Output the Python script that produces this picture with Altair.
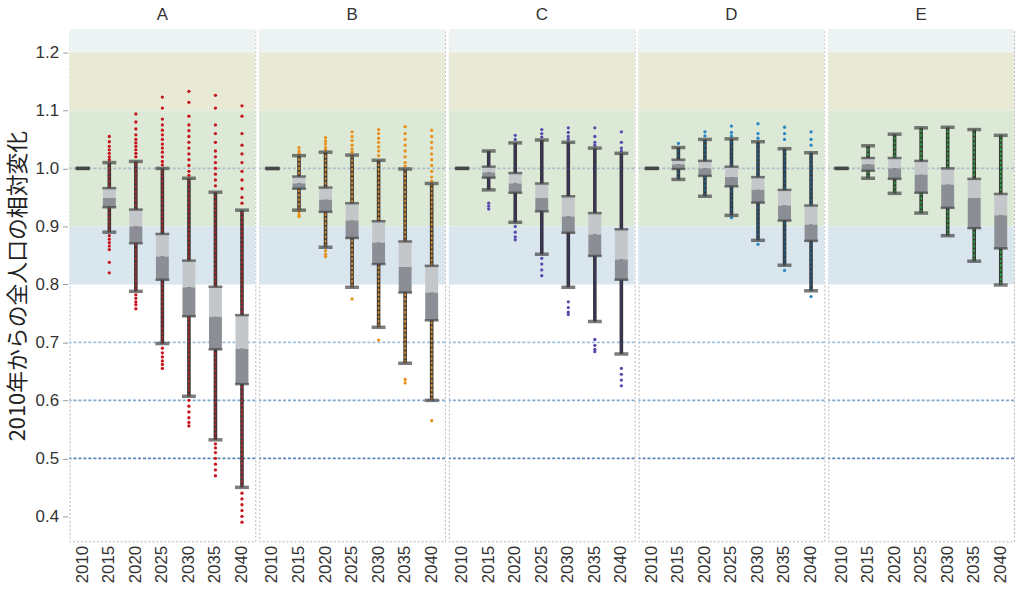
import altair as alt
import pandas as pd

# Projection regions and simulated years
panels = ["A", "B", "C", "D", "E"]
years = ["2010", "2015", "2020", "2025", "2030", "2035", "2040"]

# Box-plot statistics: relative change of total population from 2010
lower = {
    "A": [1.0, 0.890, 0.788, 0.698, 0.607, 0.532, 0.450],
    "B": [1.0, 0.928, 0.864, 0.795, 0.726, 0.664, 0.600],
    "C": [1.0, 0.963, 0.907, 0.852, 0.795, 0.736, 0.680],
    "D": [1.0, 0.981, 0.952, 0.919, 0.876, 0.833, 0.789],
    "E": [1.0, 0.983, 0.957, 0.923, 0.884, 0.840, 0.799],
}
q1 = {
    "A": [1.0, 0.933, 0.871, 0.808, 0.745, 0.688, 0.628],
    "B": [1.0, 0.965, 0.925, 0.880, 0.835, 0.786, 0.738],
    "C": [1.0, 0.984, 0.958, 0.926, 0.889, 0.849, 0.808],
    "D": [1.0, 0.999, 0.987, 0.969, 0.941, 0.910, 0.875],
    "E": [1.0, 0.996, 0.982, 0.958, 0.932, 0.897, 0.862],
}
median = {
    "A": [1.0, 0.949, 0.900, 0.848, 0.795, 0.744, 0.689],
    "B": [1.0, 0.974, 0.946, 0.910, 0.872, 0.830, 0.786],
    "C": [1.0, 0.993, 0.974, 0.949, 0.917, 0.886, 0.843],
    "D": [1.0, 1.007, 1.000, 0.985, 0.963, 0.936, 0.903],
    "E": [1.0, 1.007, 1.000, 0.989, 0.972, 0.949, 0.919],
}
q3 = {
    "A": [1.0, 0.966, 0.929, 0.887, 0.841, 0.796, 0.747],
    "B": [1.0, 0.986, 0.967, 0.940, 0.909, 0.874, 0.832],
    "C": [1.0, 1.003, 0.992, 0.974, 0.952, 0.923, 0.895],
    "D": [1.0, 1.015, 1.013, 1.003, 0.985, 0.963, 0.936],
    "E": [1.0, 1.018, 1.018, 1.013, 1.000, 0.982, 0.956],
}
upper = {
    "A": [1.0, 1.010, 1.012, 1.000, 0.983, 0.959, 0.928],
    "B": [1.0, 1.022, 1.028, 1.023, 1.014, 0.999, 0.974],
    "C": [1.0, 1.030, 1.044, 1.049, 1.045, 1.035, 1.026],
    "D": [1.0, 1.036, 1.050, 1.051, 1.046, 1.034, 1.027],
    "E": [1.0, 1.039, 1.059, 1.070, 1.071, 1.067, 1.057],
}

# Values beyond the whiskers
outliers = {
    "A": {
        "2015": [1.055, 1.046, 1.038, 1.032, 1.026, 1.020, 1.015,
                 0.884, 0.878, 0.872, 0.866, 0.860, 0.838, 0.820],
        "2020": [1.094, 1.080, 1.068, 1.058, 1.050, 1.044, 1.038, 1.032, 1.026, 1.020,
                 0.782, 0.776, 0.770, 0.765, 0.758],
        "2025": [1.123, 1.104, 1.085, 1.075, 1.066, 1.058, 1.050, 1.042, 1.035, 1.028,
                 1.020, 1.012, 1.006, 0.690, 0.682, 0.675, 0.668, 0.662, 0.655],
        "2030": [1.133, 1.114, 1.090, 1.075, 1.065, 1.055, 1.045, 1.035, 1.025, 1.015,
                 1.005, 0.995, 0.988, 0.600, 0.590, 0.580, 0.570, 0.562, 0.556],
        "2035": [1.126, 1.104, 1.075, 1.060, 1.045, 1.030, 1.020, 1.010, 1.000, 0.990,
                 0.980, 0.970, 0.525, 0.518, 0.510, 0.500, 0.490, 0.480, 0.470],
        "2040": [1.108, 1.090, 1.060, 1.040, 1.025, 1.010, 0.995, 0.980, 0.965, 0.950,
                 0.940, 0.440, 0.430, 0.420, 0.410, 0.400, 0.390],
    },
    "B": {
        "2015": [1.036, 1.030, 1.026, 0.925, 0.920, 0.917],
        "2020": [1.053, 1.047, 1.042, 1.036, 1.032, 0.858, 0.852, 0.848],
        "2025": [1.063, 1.055, 1.048, 1.040, 1.033, 1.028, 0.775],
        "2030": [1.067, 1.060, 1.052, 1.045, 1.037, 1.030, 1.022, 0.704],
        "2035": [1.072, 1.060, 1.050, 1.040, 1.030, 1.020, 1.010, 1.004, 0.636, 0.630],
        "2040": [1.066, 1.055, 1.045, 1.035, 1.025, 1.015, 1.005, 0.995, 0.985, 0.978, 0.565],
    },
    "C": {
        "2015": [0.940, 0.935, 0.930],
        "2020": [1.057, 1.050, 0.900, 0.890, 0.882, 0.877],
        "2025": [1.067, 1.060, 1.054, 0.845, 0.835, 0.825, 0.815],
        "2030": [1.070, 1.062, 1.055, 1.050, 0.770, 0.760, 0.752, 0.748],
        "2035": [1.070, 1.055, 1.045, 1.040, 0.705, 0.695, 0.688, 0.684],
        "2040": [1.063, 1.045, 1.035, 1.030, 0.655, 0.645, 0.635, 0.625],
    },
    "D": {
        "2015": [1.043],
        "2020": [1.063, 1.056],
        "2025": [1.073, 1.062, 1.056, 0.915],
        "2030": [1.077, 1.060, 1.052, 0.869],
        "2035": [1.071, 1.060, 1.050, 0.824],
        "2040": [1.063, 1.050, 1.040, 0.779],
    },
    "E": {},
}

# Background bands and reference lines
band_lo = [1.2, 1.1, 0.9, 0.8]
band_hi = [1.24, 1.2, 1.1, 0.9]
band_fill = ["#ecf3f2", "#e9ead5", "#dbe9d6", "#d9e6ee"]
ref_vals = [1.0, 0.7, 0.6, 0.5]
ref_colors = ["#aebdc8", "#9fc0da", "#7ea8cc", "#5b87b6"]

dot_colors = ["#c8141e", "#e8901a", "#5a4aae", "#2a86c4", "#2e9e44"]
whisker_colors = ["#b3262a", "#d98a2a", "#3c3470", "#1f5f8e", "#2f9a3f"]

rows = []
for p in panels:
    for i, y in enumerate(years):
        rows.append(dict(kind="stat", panel=p, year=y, lw=lower[p][i], q1=q1[p][i],
                         med=median[p][i], q3=q3[p][i], uw=upper[p][i]))
    for y, vals in outliers[p].items():
        for v in vals:
            rows.append(dict(kind="out", panel=p, year=y, val=v))
    for lo, hi, f in zip(band_lo, band_hi, band_fill):
        rows.append(dict(kind="band", panel=p, lo=lo, hi=hi, fill=f))
    for v, c in zip(ref_vals, ref_colors):
        rows.append(dict(kind="line", panel=p, val=v, stroke=c))
df = pd.DataFrame(rows)

W, H = 187, 515
FONT = "Liberation Sans"

yscale = alt.Scale(domain=[0.357, 1.239], nice=False, zero=False)
yaxis = alt.Axis(
    title="2010年からの全人口の相対変化",
    titleFont="Noto Sans CJK JP", titleFontSize=22, titleFontWeight="normal",
    titleColor="#222", titlePadding=6,
    values=[0.4, 0.5, 0.6, 0.7, 0.8, 0.9, 1.0, 1.1, 1.2], format=".1f",
    labelFont=FONT, labelFontSize=17, labelColor="#333", labelPadding=4,
    tickSize=5, tickColor="#9a9a9a", grid=False, domain=False,
)
xenc = alt.X(
    "year:N", sort=years, title=None,
    scale=alt.Scale(paddingInner=0, paddingOuter=0),
    axis=alt.Axis(labelAngle=-90, labelFont=FONT, labelFontSize=17, labelColor="#333",
                  ticks=False, domain=False, labelPadding=3),
)

def only(kind):
    return alt.datum.kind == kind

base = alt.Chart()

bands = base.mark_rect().encode(
    y=alt.Y("lo:Q", scale=yscale, axis=yaxis), y2="hi:Q",
    x=alt.value(0), x2=alt.value(W),
    fill=alt.Fill("fill:N", scale=None),
).transform_filter(only("band"))

lines = base.mark_rule(strokeDash=[3, 2], strokeWidth=1.6).encode(
    y=alt.Y("val:Q", scale=yscale, axis=yaxis),
    stroke=alt.Stroke("stroke:N", scale=None),
).transform_filter(only("line"))

whisker_base = base.mark_rule(color="#363636", strokeWidth=3.6).encode(
    x=xenc, y=alt.Y("lw:Q", scale=yscale, axis=yaxis), y2="uw:Q",
).transform_filter(only("stat"))

whisker_col = base.mark_rule(strokeWidth=1.7, strokeDash=[3, 1.5]).encode(
    x=xenc, y=alt.Y("lw:Q", scale=yscale, axis=yaxis), y2="uw:Q",
    stroke=alt.Stroke("panel:N", scale=alt.Scale(domain=panels, range=whisker_colors), legend=None),
).transform_filter(only("stat"))

dots = base.mark_circle(size=11, opacity=1).encode(
    x=xenc, y=alt.Y("val:Q", scale=yscale, axis=yaxis),
    color=alt.Color("panel:N", scale=alt.Scale(domain=panels, range=dot_colors), legend=None),
).transform_filter(only("out"))

box_upper = base.mark_bar(size=13, color="#c3c7c9").encode(
    x=xenc, y=alt.Y("med:Q", scale=yscale, axis=yaxis), y2="q3:Q",
).transform_filter(only("stat"))

box_lower = base.mark_bar(size=13, color="#8b8f95").encode(
    x=xenc, y=alt.Y("q1:Q", scale=yscale, axis=yaxis), y2="med:Q",
).transform_filter(only("stat"))

def cap(field, thick):
    return base.mark_tick(orient="horizontal", size=14, thickness=thick, color="#454545").encode(
        x=xenc, y=alt.Y(f"{field}:Q", scale=yscale, axis=yaxis),
    ).transform_filter(only("stat"))

panel_layers = alt.layer(
    bands, lines, whisker_base, whisker_col, dots, box_upper, box_lower,
    cap("q1", 2.5), cap("q3", 2.5), cap("lw", 3.5), cap("uw", 3.5),
    data=df,
).properties(width=W, height=H).resolve_scale(
    color="independent", stroke="independent", fill="independent"
)

chart = panel_layers.facet(
    column=alt.Column(
        "panel:N", sort=panels, title=None,
        header=alt.Header(labelFont=FONT, labelFontSize=17, labelColor="#333", labelPadding=4),
    ),
    spacing=0,
).configure_view(
    stroke="#b8b8b8", strokeDash=[2, 2], strokeWidth=1,
).properties(
    padding={"left": 6, "top": 4, "right": 0, "bottom": 0},
    background="white",
)

chart.save("out.html", embed_options={"renderer": "svg", "actions": False})
